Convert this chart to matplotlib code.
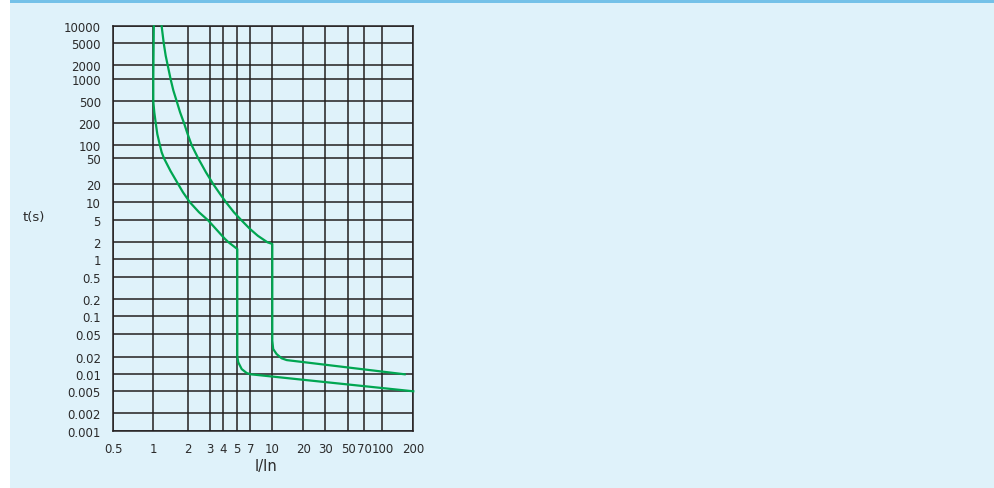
import numpy as np
import matplotlib
matplotlib.use("Agg")
import matplotlib.pyplot as plt
from matplotlib.ticker import FixedLocator, NullLocator

# tick values of the chart
x_ticks = [0.5, 1, 2, 3, 4, 5, 7, 10, 20, 30, 50, 70, 100, 200]
x_labels = ["0.5", "1", "2", "3", "4", "5", "7", "10", "20", "30", "50", "70", "100", "200"]
y_ticks = [0.001, 0.002, 0.005, 0.01, 0.02, 0.05, 0.1, 0.2, 0.5, 1, 2, 5, 10, 20,
           50, 100, 200, 500, 1000, 2000, 5000, 10000]
y_labels = ["0.001", "0.002", "0.005", "0.01", "0.02", "0.05", "0.1", "0.2", "0.5", "1",
            "2", "5", "10", "20", "50", "100", "200", "500", "1000", "2000", "5000", "10000"]

# grid spacing of the printed chart is irregular (position of each tick line)
x_pos = [0, 40, 75, 97, 110, 124, 137, 159, 190, 212, 235, 251, 269, 300]
y_pos = [0, 18, 40, 57, 74.6, 97, 115, 132, 154, 172, 189, 211, 229, 247,
         273, 286, 308, 330, 352, 366, 388, 405]

# lower curve (I/In, t in s)
low_x = [1.01, 1.0, 1.0, 1.02, 1.05, 1.083, 1.14, 1.18, 1.236, 1.406, 1.64, 1.80, 2.06,
         2.44, 2.88, 3.40, 3.89, 4.11, 4.35, 5.0, 5.0, 5.13, 5.6, 6.38, 7.05, 200]
low_t = [10000, 1000, 500, 316, 200, 142, 100, 69, 50, 32, 20, 14.7, 10,
         6.8, 5, 3.48, 2.63, 2.30, 2.0, 1.52, 0.02, 0.016, 0.0123, 0.0105, 0.01, 0.005]

# upper curve
up_x = [1.18, 1.23, 1.278, 1.33, 1.41, 1.486, 1.59, 1.70, 1.84, 1.976, 2.13, 2.40, 2.77,
        3.21, 3.72, 4.18, 4.74, 5.57, 6.95, 7.9, 8.53, 9.25, 10.0, 10.0, 10.2, 11.0,
        12.3, 13.8, 165]
up_t = [10000, 5000, 2985, 2000, 1000, 707, 500, 316, 200, 141.6, 100, 50, 30.5,
        20, 13.8, 10, 6.8, 5, 3.48, 2.63, 2.30, 2.0, 1.87, 0.0385, 0.0274, 0.0223,
        0.0188, 0.0175, 0.01]


def make_scale(ticks, pos):
    lt = np.log10(ticks)
    pos = np.array(pos, dtype=float)

    def fwd(v):
        v = np.clip(np.asarray(v, dtype=float), 1e-12, None)
        return np.interp(np.log10(v), lt, pos)

    def inv(p):
        return 10 ** np.interp(np.asarray(p, dtype=float), pos, lt)
    return fwd, inv


bg = "#dff2fa"
grid_c = "#231f20"
green = "#00a651"
txt = "#2b2b2b"

fig = plt.figure(figsize=(9.94, 4.89), dpi=100)
fig.patch.set_facecolor("white")
fig.add_artist(plt.Rectangle((10 / 994, 0), 984 / 994, 1, transform=fig.transFigure,
                             facecolor=bg, edgecolor="none", zorder=-10))
fig.add_artist(plt.Rectangle((10 / 994, 1 - 4 / 489), 984 / 994, 4 / 489,
                             transform=fig.transFigure, facecolor="#74c1e8",
                             edgecolor="none", zorder=-9))

ax = fig.add_axes([113.3 / 994, (489 - 432.3) / 489, 300 / 994, 405 / 489])
ax.set_facecolor(bg)
ax.set_xscale("function", functions=make_scale(x_ticks, x_pos))
ax.set_yscale("function", functions=make_scale(y_ticks, y_pos))
ax.set_xlim(0.5, 200)
ax.set_ylim(0.001, 10000)

ax.xaxis.set_major_locator(FixedLocator(x_ticks))
ax.yaxis.set_major_locator(FixedLocator(y_ticks))
ax.xaxis.set_minor_locator(NullLocator())
ax.yaxis.set_minor_locator(NullLocator())
ax.set_xticklabels(x_labels)
ax.set_yticklabels(y_labels)
ax.tick_params(length=0, labelsize=8.5, colors=txt)
ax.tick_params(axis="y", pad=9)
ax.tick_params(axis="x", pad=8)
ax.grid(True, color=grid_c, linewidth=1.1)
for s in ax.spines.values():
    s.set_color(grid_c)
    s.set_linewidth(1.1)

ax.plot(low_x, low_t, color=green, linewidth=1.6, zorder=3, clip_on=False,
        solid_joinstyle="round")
ax.plot(up_x, up_t, color=green, linewidth=1.6, zorder=3, clip_on=False,
        solid_joinstyle="round")

fig.text(34 / 994, 1 - 218 / 489, "t(s)", fontsize=9.5, color=txt,
         ha="center", va="center")
fig.text(266 / 994, 1 - 467 / 489, "I/In", fontsize=10.5, color=txt,
         ha="center", va="center")

fig.savefig("out.png", dpi=100, facecolor=fig.get_facecolor())
